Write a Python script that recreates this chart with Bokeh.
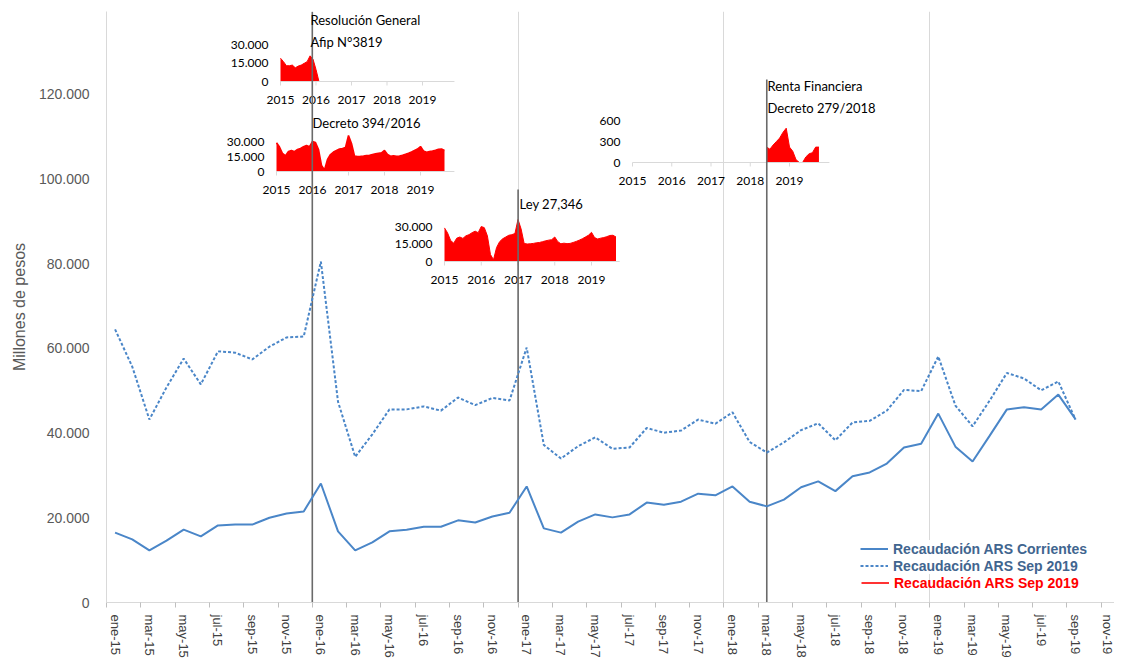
from bokeh.plotting import figure
from bokeh.models import Range1d, FixedTicker, Legend, LegendItem
from bokeh.core.properties import value
from bokeh.embed import file_html
from bokeh.resources import INLINE

# ---------------- data ----------------
month_names = ["ene", "feb", "mar", "abr", "may", "jun", "jul", "ago", "sep", "oct", "nov", "dic"]
years_short = ["15", "16", "17", "18", "19"]
month_labels = [f"{m}-{y}" for y in years_short for m in month_names][:59]  # ene-15 .. nov-19

corrientes = [16500, 14900, 12300, 14600, 17200, 15600, 18200, 18400, 18400, 20000, 21000, 21500,
              28100, 16800, 12300, 14200, 16800, 17200, 17900, 17900, 19400, 18900, 20300, 21200,
              27400, 17500, 16500, 19100, 20800, 20100, 20800, 23600, 23100, 23800, 25700, 25300,
              27400, 23800, 22700, 24300, 27200, 28600, 26300, 29800, 30700, 32800, 36600, 37500,
              44600, 36800, 33300, 39400, 45600, 46100, 45600, 49100, 43300]

sep2019 = [64500, 55700, 43200, 50800, 57600, 51500, 59300, 59000, 57400, 60400, 62600, 62800,
           80500, 47400, 34400, 39700, 45600, 45600, 46300, 45300, 48400, 46600, 48300, 47700,
           60200, 37200, 34000, 36900, 39000, 36300, 36600, 41200, 40100, 40600, 43200, 42200,
           44900, 37900, 35400, 37800, 40700, 42300, 38300, 42500, 42900, 45300, 50200, 49900,
           58100, 46500, 41600, 47700, 54200, 52900, 50100, 52200, 43200]

y_tick_vals = [0, 20000, 40000, 60000, 80000, 100000, 120000]
y_tick_labels = ["0", "20.000", "40.000", "60.000", "80.000", "100.000", "120.000"]

# inset series (monthly, month 0 = ene-2015)
inset1_vals = [18900, 16100, 12800, 12800, 13300, 11100, 12500, 13300, 14700, 16100, 20800, 18000, 9700, 0]
red_vals = [28800, 24500, 18000, 15700, 20000, 21000, 19800, 22000, 23000, 24700, 26000, 24700,
            30000, 29000, 22000, 6000, 1500, 12000, 17000, 19500, 21000, 22500, 23000, 24000,
            36000, 28000, 15500, 15000, 15200, 15500, 16000, 16300, 17000, 17700, 18300, 18700,
            21000, 17000, 15200, 15700, 15300, 15500, 16300, 17200, 18300, 19500, 21000, 22500,
            25000, 20500, 19300, 20000, 20500, 21300, 22300, 22500, 21000]
inset4_start = 41
inset4_vals = [220, 190, 250, 300, 350, 430, 490, 220, 160, 40, 0, 0, 80, 125, 140, 220, 220]

year_ticks = [0, 12, 24, 36, 48]
year_labels = ["2015", "2016", "2017", "2018", "2019"]

# events
event_x = [12, 24, 38.5]
event_top = [139500, 97500, 123500]
event_text = ["Resolución General\nAfip N°3819", "Decreto 394/2016", "Ley 27,346",
              "Renta Financiera\nDecreto 279/2018"]

# ---------------- layout helpers (page pixels -> data) ----------------
X0, PXM = 107.0, 17.15
Y0, PXU = 603.0, 84.7 / 20000.0
def px_x(px):
    return (px - X0) / PXM
def px_y(py):
    return (Y0 - py) / PXU

FRAME_W, FRAME_H = 1008, 591
x_end = FRAME_W / PXM
y_end = FRAME_H / PXU

p = figure(output_backend="svg", toolbar_location=None,
           frame_width=FRAME_W, frame_height=FRAME_H,
           x_range=Range1d(0, x_end), y_range=Range1d(0, y_end),
           min_border_left=106, min_border_right=0, min_border_top=11, min_border_bottom=48,
           background_fill_color="white", border_fill_color="white")
p.outline_line_color = None

idx = list(range(len(month_labels)))
# x axis
p.xaxis.ticker = FixedTicker(ticks=[i + 0.5 for i in idx if i % 2 == 0],
                             minor_ticks=[i for i in idx if i % 2 == 0])
p.xaxis.major_label_overrides = {i + 0.5: month_labels[i] for i in idx if i % 2 == 0}
p.xaxis.major_label_orientation = "vertical"
p.xaxis.major_tick_line_color = None
p.xaxis.minor_tick_line_color = "#bfbfbf"
p.xaxis.minor_tick_out = 5
p.xaxis.minor_tick_in = 0
p.xaxis.axis_line_color = "#d9d9d9"
p.xaxis.major_label_text_font = "Liberation Sans"
p.xaxis.major_label_text_font_size = "13px"
p.xaxis.major_label_text_color = "#404040"
p.xaxis.major_label_standoff = 6

# y axis
p.yaxis.ticker = FixedTicker(ticks=y_tick_vals)
p.yaxis.major_label_overrides = dict(zip(y_tick_vals, y_tick_labels))
p.yaxis.major_tick_line_color = None
p.yaxis.minor_tick_line_color = None
p.yaxis.axis_line_color = "#d9d9d9"
p.yaxis.major_label_text_font = "Liberation Sans"
p.yaxis.major_label_text_font_size = "14px"
p.yaxis.major_label_text_color = "#595959"
p.yaxis.major_label_standoff = 11
p.yaxis.axis_label = "Millones de pesos"
p.yaxis.axis_label_text_font = "Liberation Sans"
p.yaxis.axis_label_text_font_size = "16px"
p.yaxis.axis_label_text_font_style = "normal"
p.yaxis.axis_label_text_color = "#595959"
p.yaxis.axis_label_standoff = 8

p.ygrid.grid_line_color = None
p.xgrid.ticker = FixedTicker(ticks=[12, 24, 36, 48])
p.xgrid.grid_line_color = "#d9d9d9"

# ---------------- insets ----------------
insets = [
    dict(x=list(range(len(inset1_vals))), v=inset1_vals, x0=281, x48=423, y0=82, yt=45,
         ymax=30000, yt_vals=[0, 15000, 30000], yt_lab=["0", "15.000", "30.000"], aend=58.8),
    dict(x=list(range(len(red_vals))), v=red_vals, x0=277, x48=421, y0=172, yt=142,
         ymax=30000, yt_vals=[0, 15000, 30000], yt_lab=["0", "15.000", "30.000"], aend=59.3),
    dict(x=list(range(len(red_vals))), v=red_vals, x0=445, x48=592, y0=262, yt=227,
         ymax=30000, yt_vals=[0, 15000, 30000], yt_lab=["0", "15.000", "30.000"], aend=57.2),
    dict(x=list(range(inset4_start, inset4_start + len(inset4_vals))), v=inset4_vals,
         x0=633, x48=790, y0=163, yt=121,
         ymax=600, yt_vals=[0, 300, 600], yt_lab=["0", "300", "600"], aend=60.2),
]
red_line = None
for k, s in enumerate(insets):
    sub = p.subplot(x_source=Range1d(0, 48), y_source=Range1d(0, s["ymax"]),
                    x_target=Range1d(px_x(s["x0"]), px_x(s["x48"])),
                    y_target=Range1d(px_y(s["y0"]), px_y(s["yt"])))
    sub.varea(x=s["x"], y1=[0] * len(s["v"]), y2=s["v"], fill_color="#ff0000")
    ln = sub.line(x=s["x"], y=s["v"], line_color="#ff0000", line_width=1.6 if k == 1 else 1)
    if k == 1:
        red_line = ln
    sub.segment(x0=[0], y0=[0], x1=[s["aend"]], y1=[0], line_color="#d9d9d9", line_width=1)
    tl = s["ymax"] * 4.0 / (s["y0"] - s["yt"])
    sub.segment(x0=year_ticks, y0=[0] * 5, x1=year_ticks, y1=[-tl] * 5,
                line_color="#d9d9d9", line_width=1)
    sub.text(x=year_ticks, y=[0] * 5, text=year_labels, text_align="center",
             text_baseline="middle", y_offset=18, text_font=value("Lato"),
             text_font_size="12px", text_color="black")
    sub.text(x=[0] * len(s["yt_vals"]), y=s["yt_vals"], text=s["yt_lab"], text_align="right",
             text_baseline="middle", x_offset=-12, text_font=value("Lato"),
             text_font_size="12px", text_color="black")

# ---------------- event lines ----------------
p.segment(x0=event_x, y0=[0] * 3, x1=event_x, y1=event_top, line_color="#6a6a6a", line_width=1.6)

# ---------------- main series ----------------
xs = [i + 0.5 for i in range(len(corrientes))]
l_corr = p.line(xs, corrientes, line_color="#4a86c8", line_width=2)
l_sep = p.line(xs, sep2019, line_color="#4a86c8", line_width=2, line_dash="3 2")

# ---------------- annotation texts ----------------
txt_x = [px_x(311), px_x(313), px_x(520), px_x(768)]
txt_y = [px_y(12), px_y(115), px_y(196), px_y(78)]
p.text(x=txt_x, y=txt_y, text=event_text, text_align="left", text_baseline="top",
       text_font=value("Lato"), text_font_size="13px", text_color="black", text_line_height=1.4)

# ---------------- legend ----------------
leg1 = Legend(items=[LegendItem(label="Recaudación ARS Corrientes", renderers=[l_corr]),
                     LegendItem(label="Recaudación ARS Sep 2019", renderers=[l_sep])],
              location=(754, 28), orientation="vertical")
leg2 = Legend(items=[LegendItem(label="Recaudación ARS Sep 2019", renderers=[red_line])],
              location=(755, 11), orientation="vertical")
for lg, col, pad in ((leg1, "#41658f", 8), (leg2, "#ff0000", 2)):
    lg.label_text_color = col
    lg.label_text_font = "Liberation Sans"
    lg.label_text_font_style = "bold"
    lg.label_text_font_size = "14px"
    lg.glyph_width = 28
    lg.glyph_height = 17
    lg.label_height = 17
    lg.label_standoff = 5
    lg.spacing = 0
    lg.padding = pad
    lg.margin = 0
    lg.border_line_color = None
    lg.background_fill_color = "white"
leg2.background_fill_alpha = 0
p.add_layout(leg1)
p.add_layout(leg2)

open("out.html", "w").write(file_html(p, INLINE))
